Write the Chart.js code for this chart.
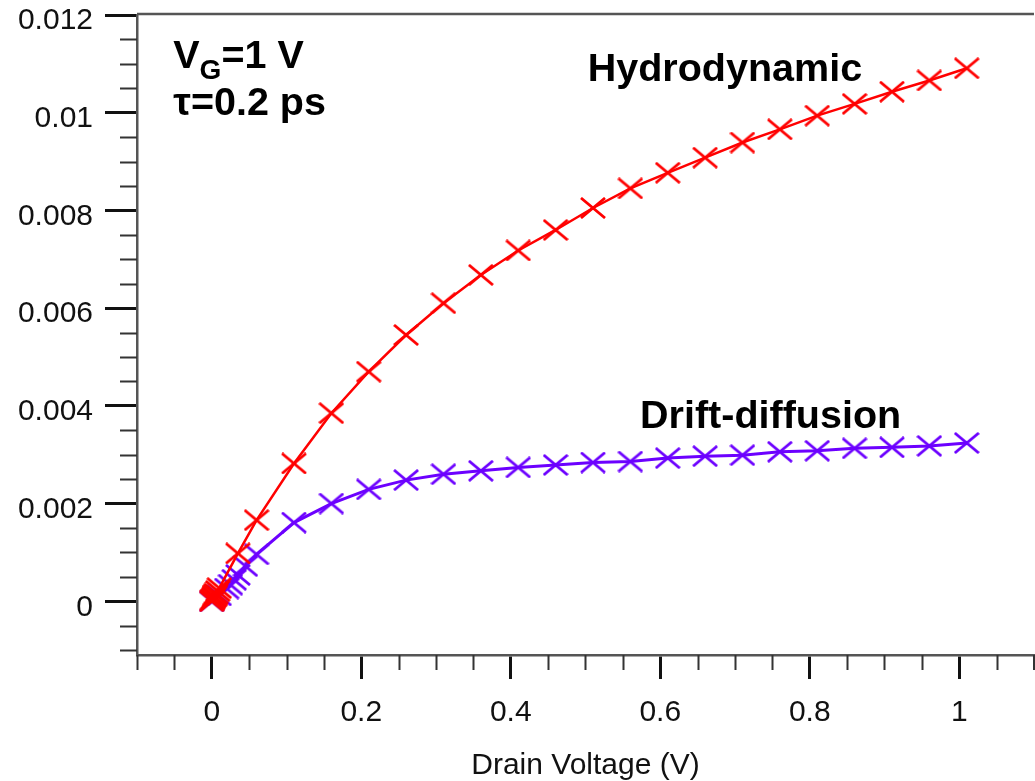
<!DOCTYPE html>
<html>
<head>
<meta charset="utf-8">
<script src="https://cdn.jsdelivr.net/npm/chart.js@4.4.0/dist/chart.umd.min.js"></script>
<style>
  html, body { margin: 0; padding: 0; background: #fff; }
  canvas { display: block; }
</style>
</head>
<body>
<canvas id="myChart" width="1035" height="781"></canvas>
<script>
"use strict";

// Hydrodynamic (red)
const hydroV = [0, 0.001, 0.002, 0.003, 0.004, 0.005, 0.006, 0.008, 0.01, 0.035, 0.06, 0.11, 0.16, 0.21, 0.26, 0.31, 0.36, 0.41, 0.46, 0.51, 0.56, 0.61, 0.66, 0.71, 0.76, 0.81, 0.86, 0.91, 0.96, 1.01];
const hydroI = [0, 0.00003, 0.00005, 0.00008, 0.0001, 0.00013, 0.00016, 0.00021, 0.00027, 0.00098, 0.00166, 0.00282, 0.00385, 0.0047, 0.00545, 0.0061, 0.00668, 0.00718, 0.0076, 0.00805, 0.00845, 0.00877, 0.00908, 0.00939, 0.00966, 0.00994, 0.01018, 0.01043, 0.01066, 0.01091];

// Drift-diffusion (purple)
const driftV = [0, 0.01, 0.02, 0.025, 0.03, 0.035, 0.045, 0.06, 0.11, 0.16, 0.21, 0.26, 0.31, 0.36, 0.41, 0.46, 0.51, 0.56, 0.61, 0.66, 0.71, 0.76, 0.81, 0.86, 0.91, 0.96, 1.01];
const driftI = [0, 0.00012, 0.00026, 0.00034, 0.00044, 0.00054, 0.00072, 0.00096, 0.00161, 0.002, 0.00229, 0.00248, 0.0026, 0.00267, 0.00274, 0.00279, 0.00284, 0.00286, 0.00293, 0.00297, 0.00299, 0.00306, 0.00308, 0.00313, 0.00315, 0.00318, 0.00324];

// Axis ticks
const xTicks = [0, 0.2, 0.4, 0.6, 0.8, 1];
const xTickLabels = ["0", "0.2", "0.4", "0.6", "0.8", "1"];
const yTicks = [0, 0.002, 0.004, 0.006, 0.008, 0.01, 0.012];
const yTickLabels = ["0", "0.002", "0.004", "0.006", "0.008", "0.01", "0.012"];

const FONT = "'Liberation Sans', Arial, sans-serif";

const toPoints = function (xs, ys) {
  return xs.map((v, i) => ({ x: v, y: ys[i] }));
};

// X shaped marker, a bit wider than tall
const makeCross = function (color) {
  const c = document.createElement("canvas");
  c.width = 26;
  c.height = 22;
  const g = c.getContext("2d");
  g.strokeStyle = color;
  g.lineWidth = 2.8;
  g.beginPath();
  g.moveTo(1, 1);
  g.lineTo(25, 21);
  g.moveTo(1, 21);
  g.lineTo(25, 1);
  g.stroke();
  return c;
};

const RED = "#ff0000";
const PURPLE = "#6c00ff";

// minor ticks, frame top, and the text labels
const decorPlugin = {
  id: "decor",
  afterDraw(chart) {
    const { ctx, chartArea, scales } = chart;
    const xs = scales.x;
    const ys = scales.y;
    ctx.save();

    ctx.strokeStyle = "#555";
    ctx.lineWidth = 2.5;
    ctx.beginPath();
    ctx.moveTo(chartArea.left, chartArea.top - 1);
    ctx.lineTo(chartArea.right, chartArea.top - 1);
    ctx.stroke();

    ctx.strokeStyle = "#333";
    ctx.lineWidth = 2;
    ctx.beginPath();
    for (let k = -2; k <= 23; k++) {
      if (k % 4 === 0) continue;
      const py = Math.round(ys.getPixelForValue(k * 0.0005)) + 0.5;
      ctx.moveTo(chartArea.left - 17, py);
      ctx.lineTo(chartArea.left, py);
    }
    for (let k = -2; k <= 22; k++) {
      if (k % 4 === 0) continue;
      const px = Math.min(Math.round(xs.getPixelForValue(k * 0.05)) + 0.5, chart.width - 1);
      ctx.moveTo(px, chartArea.bottom);
      ctx.lineTo(px, chartArea.bottom + 15);
    }
    ctx.stroke();

    ctx.fillStyle = "#000";
    ctx.textBaseline = "alphabetic";
    ctx.textAlign = "left";
    const big = "bold 39.5px " + FONT;
    const small = "bold 28px " + FONT;

    ctx.font = big;
    ctx.fillText("Hydrodynamic", xs.getPixelForValue(0.503), ys.getPixelForValue(0.010641));
    ctx.fillText("Drift-diffusion", xs.getPixelForValue(0.573), ys.getPixelForValue(0.003539));

    let x0 = xs.getPixelForValue(-0.0515);
    let yb = ys.getPixelForValue(0.010916);
    ctx.fillText("V", x0, yb);
    x0 += ctx.measureText("V").width;
    ctx.font = small;
    ctx.fillText("G", x0, yb + 11);
    x0 += ctx.measureText("G").width;
    ctx.font = big;
    ctx.fillText("=1 V", x0, yb);

    ctx.fillText("\u03C4=0.2 ps", xs.getPixelForValue(-0.0515), ys.getPixelForValue(0.009959));
    ctx.restore();
  },
};

const ctx = document.getElementById("myChart").getContext("2d");

const myChart = new Chart(ctx, {
  type: "line",
  data: {
    datasets: [
      {
        label: "Hydrodynamic",
        data: toPoints(hydroV, hydroI),
        borderColor: RED,
        borderWidth: 2.5,
        pointStyle: makeCross(RED),
        pointRadius: 12,
        tension: 0,
      },
      {
        label: "Drift-diffusion",
        data: toPoints(driftV, driftI),
        borderColor: PURPLE,
        borderWidth: 3,
        pointStyle: makeCross(PURPLE),
        pointRadius: 12,
        tension: 0,
      },
    ],
  },
  options: {
    responsive: false,
    animation: false,
    layout: {
      autoPadding: false,
      padding: { top: 15, right: 1, left: 0, bottom: 0 },
    },
    scales: {
      x: {
        type: "linear",
        min: -0.1,
        max: 1.1,
        afterBuildTicks: (scale) => {
          scale.ticks = xTicks.map((v) => ({ value: v }));
        },
        afterFit: (scale) => {
          scale.height = 126;
          scale.paddingLeft = 0;
          scale.paddingRight = 0;
        },
        grid: {
          drawOnChartArea: false,
          tickLength: 24,
          tickWidth: 3,
          tickColor: "#111",
        },
        border: { display: true, color: "#555", width: 2.5 },
        ticks: {
          padding: 16,
          color: "#111",
          font: { family: FONT, size: 30 },
          maxRotation: 0,
          callback: (value) => xTickLabels[xTicks.indexOf(value)],
        },
        title: {
          display: true,
          text: "Drain Voltage (V)",
          color: "#111",
          font: { family: FONT, size: 30, lineHeight: 1 },
          padding: { top: 0, bottom: 0 },
        },
      },
      y: {
        type: "linear",
        min: -0.0011,
        max: 0.012,
        afterBuildTicks: (scale) => {
          scale.ticks = yTicks.map((v) => ({ value: v }));
        },
        afterFit: (scale) => {
          scale.width = 137;
          scale.paddingTop = 0;
          scale.paddingBottom = 0;
        },
        grid: {
          drawOnChartArea: false,
          tickLength: 32,
          tickWidth: 3,
          tickColor: "#111",
        },
        border: { display: true, color: "#555", width: 2.5 },
        ticks: {
          padding: 12,
          labelOffset: 6,
          color: "#111",
          font: { family: FONT, size: 30 },
          callback: (value) => yTickLabels[yTicks.indexOf(value)],
        },
      },
    },
    plugins: {
      legend: { display: false },
      tooltip: { enabled: false },
    },
  },
  plugins: [decorPlugin],
});
</script>
</body>
</html>
